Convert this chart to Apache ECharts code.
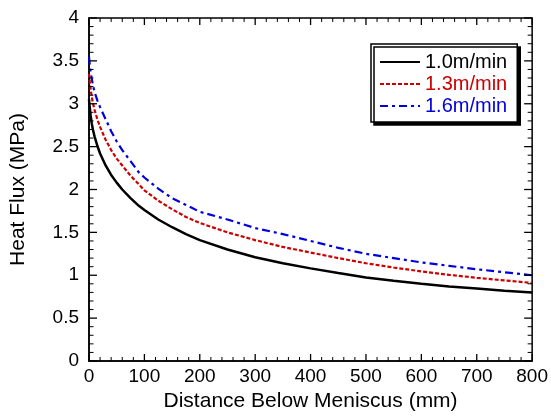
<!DOCTYPE html>
<html>
<head>
<meta charset="utf-8">
<script src="https://cdn.jsdelivr.net/npm/echarts@6/dist/echarts.min.js"></script>
<style>
html,body{margin:0;padding:0;background:#fff;}
#chart{width:551px;height:417px;}
</style>
</head>
<body>
<div id="chart"></div>
<script>
// Distance below meniscus (mm)
const distance = [0, 1, 2, 3, 5, 7, 10, 15, 20, 30, 40, 50, 60, 75, 90, 100, 125, 150, 175, 200, 250, 300, 350, 400, 450, 500, 550, 600, 650, 700, 750, 800];
// Heat flux (MPa) for each casting speed
const flux10 = [3.05, 2.98, 2.92, 2.86, 2.77, 2.70, 2.62, 2.51, 2.42, 2.28, 2.17, 2.08, 2.00, 1.90, 1.81, 1.76, 1.65, 1.56, 1.48, 1.41, 1.30, 1.21, 1.14, 1.08, 1.025, 0.975, 0.935, 0.90, 0.87, 0.845, 0.82, 0.80];
const flux13 = [3.35, 3.28, 3.22, 3.17, 3.08, 3.01, 2.93, 2.82, 2.73, 2.58, 2.46, 2.36, 2.28, 2.16, 2.06, 1.99, 1.87, 1.77, 1.68, 1.61, 1.50, 1.41, 1.33, 1.265, 1.20, 1.14, 1.09, 1.045, 1.005, 0.97, 0.94, 0.91];
const flux16 = [3.55, 3.48, 3.42, 3.37, 3.29, 3.22, 3.14, 3.04, 2.96, 2.82, 2.68, 2.56, 2.46, 2.33, 2.20, 2.14, 2.01, 1.90, 1.82, 1.74, 1.65, 1.55, 1.48, 1.40, 1.32, 1.25, 1.20, 1.15, 1.11, 1.07, 1.035, 1.00];
const seriesNames = ['1.0m/min', '1.3m/min', '1.6m/min'];
const xTicks = [0, 100, 200, 300, 400, 500, 600, 700, 800];
const yTicks = [0, 0.5, 1, 1.5, 2, 2.5, 3, 3.5, 4];
const minorPerMajor = 5;

const FONT = 'Liberation Sans, Arial, sans-serif';
const colors = ['#000000', '#cc0000', '#0000dd'];
const dashes = ['solid', [4, 2], [8, 4, 3, 4]];
const fluxes = [flux10, flux13, flux16];

function pairs(ys) { return distance.map((d, i) => [d, ys[i]]); }

const X0 = xTicks[0], X1 = xTicks[xTicks.length - 1], XI = xTicks[1] - xTicks[0];
const Y0 = yTicks[0], Y1 = yTicks[yTicks.length - 1], YI = yTicks[1] - yTicks[0];

// tick positions (major + minor) along each axis, placed through the axis scales
function tickValues(ticks) {
  const out = [];
  for (let i = 0; i < ticks.length; i++) {
    out.push([ticks[i], 1]);
    if (i < ticks.length - 1) {
      const step = (ticks[i + 1] - ticks[i]) / minorPerMajor;
      for (let k = 1; k < minorPerMajor; k++) out.push([+(ticks[i] + k * step).toFixed(6), 0]);
    }
  }
  return out;
}
const xTickData = tickValues(xTicks).map(t => [t[0], Y0, t[1]]);
const yTickData = tickValues(yTicks).map(t => [X0, t[0], t[1]]);

const MAJOR = 8, MINOR = 4.5;
function tickLine(x1, y1, x2, y2, major) {
  return { type: 'line', shape: { x1: x1, y1: y1, x2: x2, y2: y2 },
           style: { stroke: '#000', lineWidth: major ? 1.3 : 1 } };
}
function renderXTicks(params, api) {
  const v = api.value(0), major = api.value(2) === 1;
  const len = major ? MAJOR - 1 : MINOR - 0.5;
  const b = api.coord([v, Y0]), t = api.coord([v, Y1]);
  return { type: 'group', children: [
    tickLine(b[0], b[1], b[0], b[1] - len, major),
    tickLine(t[0], t[1], t[0], t[1] + len, major)
  ] };
}
function renderYTicks(params, api) {
  const v = api.value(1), major = api.value(2) === 1;
  const len = major ? MAJOR : MINOR;
  const l = api.coord([X0, v]), r = api.coord([X1, v]);
  return { type: 'group', children: [
    tickLine(l[0], l[1], l[0] + len, l[1], major),
    tickLine(r[0], r[1], r[0] - len, r[1], major)
  ] };
}

const chart = echarts.init(document.getElementById('chart'), null, { renderer: 'canvas' });
chart.setOption({
  animation: false,
  backgroundColor: '#fff',
  grid: { left: 88.5, right: 18, top: 18, bottom: 56, containLabel: false,
          show: true, borderColor: '#000', borderWidth: 1.5, backgroundColor: 'rgba(0,0,0,0)' },
  xAxis: {
    type: 'value', min: X0, max: X1, interval: XI,
    axisLine: { show: true, onZero: false, lineStyle: { color: '#000', width: 1.5 } },
    axisTick: { show: false }, minorTick: { show: false }, splitLine: { show: false },
    name: 'Distance Below Meniscus (mm)', nameLocation: 'middle', nameGap: 28,
    nameTextStyle: { fontFamily: FONT, fontSize: 21, color: '#000' },
    axisLabel: { fontFamily: FONT, fontSize: 19, color: '#000', margin: 6 }
  },
  yAxis: {
    type: 'value', min: Y0, max: Y1, interval: YI,
    axisLine: { show: true, onZero: false, lineStyle: { color: '#000', width: 1.5 } },
    axisTick: { show: false }, minorTick: { show: false }, splitLine: { show: false },
    name: 'Heat Flux (MPa)', nameLocation: 'middle', nameGap: 60,
    nameTextStyle: { fontFamily: FONT, fontSize: 21, color: '#000' },
    axisLabel: { fontFamily: FONT, fontSize: 19, color: '#000', margin: 10 }
  },
  legend: {
    orient: 'vertical', left: 371, top: 44, z: 20,
    padding: [8, 10, 6, 8],
    itemWidth: 40, itemHeight: 12, itemGap: 2,
    backgroundColor: '#fff', borderColor: '#000', borderWidth: 1.5, borderRadius: 0,
    shadowColor: '#000', shadowBlur: 0, shadowOffsetX: 3, shadowOffsetY: 3,
    textStyle: { fontFamily: FONT, fontSize: 20, lineHeight: 20 },
    data: seriesNames.map((n, i) => ({ name: n, textStyle: { color: colors[i] } }))
  },
  series: seriesNames.map((n, i) => ({
    name: n, type: 'line',
    data: pairs(fluxes[i]),
    symbol: 'none', showSymbol: false,
    smooth: false,
    lineStyle: { color: colors[i], width: i === 0 ? 2.5 : 2.2, type: dashes[i], opacity: 1 },
    itemStyle: { color: colors[i], opacity: 0 },
    z: 3 - i
  })).concat([
    { name: 'xTicks', type: 'custom', data: xTickData, encode: { x: 0, y: 1 },
      renderItem: renderXTicks, silent: true, z: 5, clip: false },
    { name: 'yTicks', type: 'custom', data: yTickData, encode: { x: 0, y: 1 },
      renderItem: renderYTicks, silent: true, z: 5, clip: false }
  ])
});
</script>
</body>
</html>
